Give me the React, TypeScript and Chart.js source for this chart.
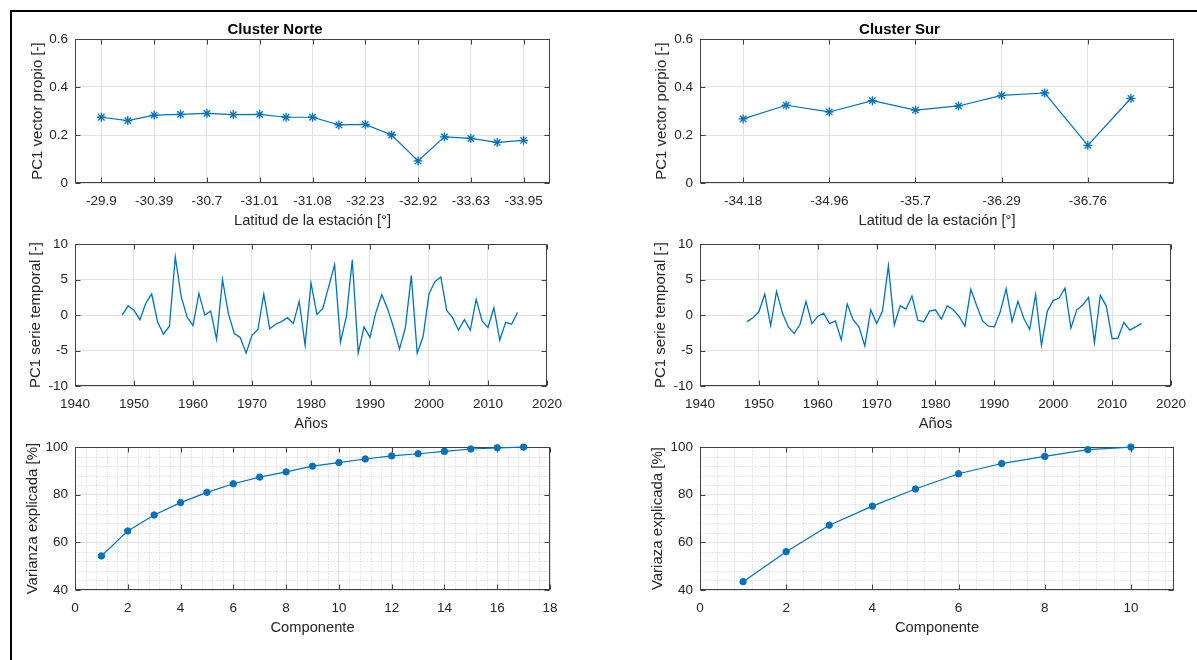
import React, { useEffect, useRef } from 'react';
import { Chart, registerables } from 'chart.js';

Chart.register(...registerables);

// ---------------- Data ----------------
// Cluster Norte: first eigenvector (PC1) per station
const NORTE_STATION_INDEX = [1, 2, 3, 4, 5, 6, 7, 8, 9, 10, 11, 12, 13, 14, 15, 16, 17];
const NORTE_PC1_EIGENVECTOR = [0.274, 0.260, 0.283, 0.286, 0.290, 0.285, 0.286, 0.274, 0.274, 0.242, 0.244, 0.200, 0.092, 0.192, 0.186, 0.169, 0.178];
const NORTE_LAT_TICK_POS = [1, 3, 5, 7, 9, 11, 13, 15, 17];
const NORTE_LAT_TICK_LABELS = ['-29.9', '-30.39', '-30.7', '-31.01', '-31.08', '-32.23', '-32.92', '-33.63', '-33.95'];

// Cluster Sur: first eigenvector (PC1) per station
const SUR_STATION_INDEX = [1, 2, 3, 4, 5, 6, 7, 8, 9, 10];
const SUR_PC1_EIGENVECTOR = [0.267, 0.324, 0.296, 0.343, 0.304, 0.321, 0.365, 0.375, 0.157, 0.353];
const SUR_LAT_TICK_POS = [1, 3, 5, 7, 9];
const SUR_LAT_TICK_LABELS = ['-34.18', '-34.96', '-35.7', '-36.29', '-36.76'];

// PC1 time series
const YEARS = [
  1948, 1949, 1950, 1951, 1952, 1953, 1954, 1955, 1956, 1957,
  1958, 1959, 1960, 1961, 1962, 1963, 1964, 1965, 1966, 1967,
  1968, 1969, 1970, 1971, 1972, 1973, 1974, 1975, 1976, 1977,
  1978, 1979, 1980, 1981, 1982, 1983, 1984, 1985, 1986, 1987,
  1988, 1989, 1990, 1991, 1992, 1993, 1994, 1995, 1996, 1997,
  1998, 1999, 2000, 2001, 2002, 2003, 2004, 2005, 2006, 2007,
  2008, 2009, 2010, 2011, 2012, 2013, 2014, 2015,
];
const NORTE_PC1_SERIES = [
  0.0, 1.3, 0.65, -0.65, 1.67, 2.96, -1.0, -2.7, -1.57, 8.2,
  2.6, -0.28, -1.48, 3.06, 0.0, 0.55, -3.43, 5.0, 0.19, -2.6,
  -3.15, -5.37, -2.87, -2.04, 2.96, -1.94, -1.3, -0.93, -0.37, -1.2,
  1.94, -4.26, 4.54, 0.09, 0.93, 4.0, 7.1, -3.8, -0.19, 7.78,
  -5.37, -1.67, -3.15, 0.37, 2.87, 0.83, -1.76, -4.8, -1.76, 5.56,
  -5.37, -3.06, 2.96, 4.72, 5.37, 0.65, -0.37, -2.13, -0.65, -2.13,
  2.22, -0.83, -1.76, 1.02, -3.52, -1.02, -1.3, 0.37,
];
const SUR_PC1_SERIES = [
  -0.93, -0.37, 0.46, 2.96, -1.48, 3.33, 0.28, -1.67, -2.6, -1.3,
  1.94, -1.2, -0.19, 0.28, -1.2, -0.83, -3.52, 1.57, -0.65, -1.67,
  -4.35, 0.74, -1.2, 0.56, 6.94, -1.39, 1.3, 0.83, 2.69, -0.74,
  -0.93, 0.56, 0.74, -0.56, 1.3, 0.74, -0.19, -1.57, 3.61, 1.3,
  -0.83, -1.57, -1.67, 0.46, 3.7, -0.93, 1.94, -0.46, -2.04, 2.87,
  -4.26, 0.56, 2.04, 2.4, 3.8, -1.85, 0.74, 1.39, 2.5, -3.89,
  2.78, 1.3, -3.33, -3.24, -1.02, -2.13, -1.67, -1.2,
];

// Cumulative explained variance
const NORTE_COMPONENTS = [1, 2, 3, 4, 5, 6, 7, 8, 9, 10, 11, 12, 13, 14, 15, 16, 17];
const NORTE_CUM_VARIANCE = [54.3, 64.8, 71.5, 76.7, 81.0, 84.6, 87.4, 89.6, 92.0, 93.5, 95.0, 96.3, 97.2, 98.2, 99.2, 99.7, 100];
const SUR_COMPONENTS = [1, 2, 3, 4, 5, 6, 7, 8, 9, 10];
const SUR_CUM_VARIANCE = [43.5, 56.1, 67.2, 75.2, 82.4, 88.8, 93.1, 96.1, 98.9, 100];

// Axis ticks
const EIG_Y_TICKS = [0, 0.2, 0.4, 0.6];
const SERIES_Y_TICKS = [-10, -5, 0, 5, 10];
const YEAR_X_TICKS = [1940, 1950, 1960, 1970, 1980, 1990, 2000, 2010, 2020];
const VAR_Y_TICKS = [40, 60, 80, 100];
const NORTE_COMP_X_TICKS = [0, 2, 4, 6, 8, 10, 12, 14, 16, 18];
const SUR_COMP_X_TICKS = [0, 2, 4, 6, 8, 10];

// ---------------- Styling ----------------
const FONT = "'Liberation Sans', Arial, Helvetica, sans-serif";
const BLUE = '#0072BD';
const TEXT = '#262626';
const GRID = '#e2e2e2';
const MINOR = '#cdcdcd';
const BOX = '#404040';
const Y_SPACE = 75;
const X_SPACE = 50;
const RIGHT_SPACE = 22;
const TOP_SPACE = 22;
const TICK_SIZE = 13.5;
const LABEL_SIZE = 14.7;

const matlabAxesPlugin = {
  id: 'matlabAxes',
  beforeDatasetsDraw(chart: any, _args: any, opts: any) {
    const { ctx, chartArea: a, scales } = chart;
    const xs = scales.x;
    const ys = scales.y;
    const L = Math.round(a.left) + 0.5;
    const R = Math.round(a.right) - 0.5;
    const T = Math.round(a.top) + 0.5;
    const B = Math.round(a.bottom) - 0.5;
    ctx.save();
    if (opts && opts.minorX) {
      ctx.strokeStyle = MINOR;
      ctx.lineWidth = 1;
      ctx.setLineDash([1, 2]);
      ctx.beginPath();
      const isMajorX = (v: number) => xs.ticks.some((t: any) => Math.abs(t.value - v) < 1e-6);
      const nx = Math.floor((xs.max - xs.min) / opts.minorX + 1e-6);
      for (let i = 1; i <= nx; i++) {
        const v = xs.min + i * opts.minorX;
        if (v >= xs.max - 1e-6 || isMajorX(v)) continue;
        const px = Math.round(xs.getPixelForValue(v)) + 0.5;
        ctx.moveTo(px, T);
        ctx.lineTo(px, B);
      }
      const isMajorY = (v: number) => ys.ticks.some((t: any) => Math.abs(t.value - v) < 1e-6);
      const ny = Math.floor((ys.max - ys.min) / opts.minorY + 1e-6);
      for (let i = 1; i <= ny; i++) {
        const v = ys.min + i * opts.minorY;
        if (v >= ys.max - 1e-6 || isMajorY(v)) continue;
        const py = Math.round(ys.getPixelForValue(v)) + 0.5;
        ctx.moveTo(L, py);
        ctx.lineTo(R, py);
      }
      ctx.stroke();
    }
    ctx.setLineDash([]);
    ctx.strokeStyle = BOX;
    ctx.lineWidth = 1;
    ctx.strokeRect(L, T, R - L, B - T);
    ctx.beginPath();
    xs.ticks.forEach((t: any) => {
      const px = Math.round(xs.getPixelForValue(t.value)) + 0.5;
      ctx.moveTo(px, B);
      ctx.lineTo(px, B - 5);
      ctx.moveTo(px, T);
      ctx.lineTo(px, T + 5);
    });
    ys.ticks.forEach((t: any) => {
      const py = Math.round(ys.getPixelForValue(t.value)) + 0.5;
      ctx.moveTo(L, py);
      ctx.lineTo(L + 5, py);
      ctx.moveTo(R, py);
      ctx.lineTo(R - 5, py);
    });
    ctx.stroke();
    ctx.restore();
  },
};

type PanelSpec = {
  box: { x: number; y: number; w: number; h: number };
  title?: string;
  xTitle: string;
  yTitle: string;
  yTitleOffset: number;
  xMin: number;
  xMax: number;
  xTicks: number[];
  xTickLabels?: string[];
  yMin: number;
  yMax: number;
  yTicks: number[];
  minor?: { x: number; y: number };
  xs: number[];
  ys: number[];
  marker: 'star' | 'circle' | 'none';
  lineWidth: number;
};

const PANELS: PanelSpec[] = [
  {
    box: { x: 75, y: 39, w: 475, h: 144 },
    title: 'Cluster Norte',
    xTitle: 'Latitud de la estación [°]',
    yTitle: 'PC1 vector propio [-]',
    yTitleOffset: 37.5,
    xMin: 0, xMax: 18, xTicks: NORTE_LAT_TICK_POS, xTickLabels: NORTE_LAT_TICK_LABELS,
    yMin: 0, yMax: 0.6, yTicks: EIG_Y_TICKS,
    xs: NORTE_STATION_INDEX, ys: NORTE_PC1_EIGENVECTOR,
    marker: 'star', lineWidth: 1.2,
  },
  {
    box: { x: 700, y: 39, w: 474, h: 144 },
    title: 'Cluster Sur',
    xTitle: 'Latitud de la estación [°]',
    yTitle: 'PC1 vector porpio [-]',
    yTitleOffset: 38.5,
    xMin: 0, xMax: 11, xTicks: SUR_LAT_TICK_POS, xTickLabels: SUR_LAT_TICK_LABELS,
    yMin: 0, yMax: 0.6, yTicks: EIG_Y_TICKS,
    xs: SUR_STATION_INDEX, ys: SUR_PC1_EIGENVECTOR,
    marker: 'star', lineWidth: 1.2,
  },
  {
    box: { x: 75, y: 243, w: 475, h: 143 },
    xTitle: 'Años',
    yTitle: 'PC1 serie temporal [-]',
    yTitleOffset: 39,
    xMin: 1940, xMax: 2020, xTicks: YEAR_X_TICKS,
    yMin: -10, yMax: 10, yTicks: SERIES_Y_TICKS,
    xs: YEARS, ys: NORTE_PC1_SERIES,
    marker: 'none', lineWidth: 1.3,
  },
  {
    box: { x: 700, y: 243, w: 474, h: 143 },
    xTitle: 'Años',
    yTitle: 'PC1 serie temporal [-]',
    yTitleOffset: 39,
    xMin: 1940, xMax: 2020, xTicks: YEAR_X_TICKS,
    yMin: -10, yMax: 10, yTicks: SERIES_Y_TICKS,
    xs: YEARS, ys: SUR_PC1_SERIES,
    marker: 'none', lineWidth: 1.3,
  },
  {
    box: { x: 75, y: 446, w: 475, h: 144 },
    xTitle: 'Componente',
    yTitle: 'Varianza explicada [%]',
    yTitleOffset: 42.5,
    xMin: 0, xMax: 18, xTicks: NORTE_COMP_X_TICKS,
    yMin: 40, yMax: 100, yTicks: VAR_Y_TICKS,
    minor: { x: 0.4, y: 4 },
    xs: NORTE_COMPONENTS, ys: NORTE_CUM_VARIANCE,
    marker: 'circle', lineWidth: 1.2,
  },
  {
    box: { x: 700, y: 446, w: 474, h: 144 },
    xTitle: 'Componente',
    yTitle: 'Variaza explicada [%]',
    yTitleOffset: 42.5,
    xMin: 0, xMax: 11, xTicks: SUR_COMP_X_TICKS,
    yMin: 40, yMax: 100, yTicks: VAR_Y_TICKS,
    minor: { x: 0.4, y: 4 },
    xs: SUR_COMPONENTS, ys: SUR_CUM_VARIANCE,
    marker: 'circle', lineWidth: 1.2,
  },
];

function buildConfig(spec: PanelSpec): any {
  const top = spec.title ? TOP_SPACE : 14;
  const yTitleLH = 15 * 1.2;
  const xTitleLH = LABEL_SIZE * 1.2;
  const data = spec.xs.map((x, i) => ({ x, y: spec.ys[i] }));
  return {
    type: 'line',
    data: {
      datasets: [
        {
          data,
          borderColor: BLUE,
          backgroundColor: BLUE,
          borderWidth: spec.lineWidth,
          tension: 0,
          clip: false,
          pointStyle: spec.marker === 'none' ? 'circle' : spec.marker,
          pointRadius: spec.marker === 'none' ? 0 : spec.marker === 'star' ? 4.5 : 3.2,
          pointBorderWidth: spec.marker === 'star' ? 1.3 : 1,
          pointBorderColor: BLUE,
          pointBackgroundColor: BLUE,
        },
      ],
    },
    options: {
      responsive: false,
      maintainAspectRatio: false,
      animation: false,
      events: [],
      layout: { padding: { top: spec.title ? 0 : top, right: RIGHT_SPACE, left: 0, bottom: 0 } },
      plugins: {
        legend: { display: false },
        tooltip: { enabled: false },
        title: spec.title
          ? {
              display: true,
              text: spec.title,
              color: '#000',
              font: { family: FONT, size: 15, weight: 'bold', lineHeight: 1.2 },
              padding: { top: 3.8, bottom: TOP_SPACE - 18 - 3.8 },
            }
          : { display: false },
        matlabAxes: spec.minor ? { minorX: spec.minor.x, minorY: spec.minor.y } : {},
      },
      scales: {
        x: {
          type: 'linear',
          min: spec.xMin,
          max: spec.xMax,
          afterBuildTicks: (s: any) => {
            s.ticks = spec.xTicks.map((v) => ({ value: v }));
          },
          afterFit: (s: any) => {
            s.height = X_SPACE;
          },
          grid: { color: GRID, lineWidth: 1, drawTicks: false },
          border: { display: false },
          ticks: {
            padding: 10,
            color: TEXT,
            autoSkip: false,
            maxRotation: 0,
            font: { family: FONT, size: TICK_SIZE },
            callback: (v: any, i: number) => (spec.xTickLabels ? spec.xTickLabels[i] : String(v)),
          },
          title: {
            display: true,
            text: spec.xTitle,
            color: TEXT,
            font: { family: FONT, size: LABEL_SIZE, lineHeight: 1.2 },
            padding: { top: 0, bottom: X_SPACE - 37.5 - xTitleLH / 2 },
          },
        },
        y: {
          type: 'linear',
          min: spec.yMin,
          max: spec.yMax,
          afterBuildTicks: (s: any) => {
            s.ticks = spec.yTicks.map((v) => ({ value: v }));
          },
          afterFit: (s: any) => {
            s.width = Y_SPACE;
          },
          grid: { color: GRID, lineWidth: 1, drawTicks: false },
          border: { display: false },
          ticks: {
            padding: 7,
            color: TEXT,
            font: { family: FONT, size: TICK_SIZE },
            callback: (v: any) => String(v),
          },
          title: {
            display: true,
            text: spec.yTitle,
            color: TEXT,
            font: { family: FONT, size: 15, lineHeight: 1.2 },
            padding: { top: Y_SPACE - spec.yTitleOffset - yTitleLH / 2, bottom: 0 },
          },
        },
      },
    },
    plugins: [matlabAxesPlugin],
  };
}

function Panel({ spec }: { spec: PanelSpec }) {
  const ref = useRef<HTMLCanvasElement>(null);
  const top = spec.title ? TOP_SPACE : 14;
  const w = Y_SPACE + spec.box.w + RIGHT_SPACE;
  const h = top + spec.box.h + X_SPACE;
  useEffect(() => {
    if (!ref.current) return;
    const chart = new Chart(ref.current, buildConfig(spec));
    return () => chart.destroy();
  }, [spec]);
  return (
    <canvas
      ref={ref}
      width={w}
      height={h}
      style={{ position: 'absolute', left: spec.box.x - Y_SPACE, top: spec.box.y - top, width: w, height: h }}
    />
  );
}

export default function App() {
  return (
    <div
      style={{
        position: 'fixed',
        left: 0,
        top: 0,
        width: 1197,
        height: 660,
        background: '#ffffff',
        overflow: 'hidden',
      }}
    >
      <div
        style={{
          position: 'absolute',
          left: 10,
          top: 10,
          width: 1300,
          height: 800,
          borderTop: '2px solid #000',
          borderLeft: '2px solid #000',
          boxSizing: 'border-box',
        }}
      />
      {PANELS.map((p, i) => (
        <Panel key={i} spec={p} />
      ))}
    </div>
  );
}
